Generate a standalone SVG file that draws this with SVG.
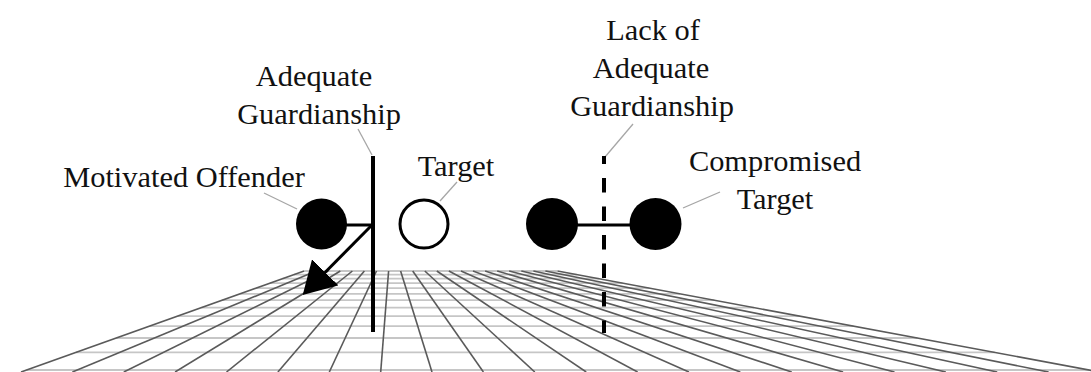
<svg xmlns="http://www.w3.org/2000/svg" width="1091" height="372" viewBox="0 0 1091 372">
<style>
text{font-family:"Liberation Serif","Times New Roman",serif;font-size:30.4px;fill:#111;text-anchor:middle}
.d{stroke:#5a5a5a;stroke-width:1.6}
.c{stroke:#c6c6c6;stroke-width:1.8}
.lead{stroke:#a6a6a6;stroke-width:1.3;fill:none}
.bold{stroke:#000;stroke-width:3;fill:none}
.pole{stroke:#000;stroke-width:4;fill:none}
.dot{fill:#000}
</style>
<defs>
<marker id="ah" markerUnits="userSpaceOnUse" viewBox="0 0 32 37" markerWidth="32" markerHeight="37" refX="1" refY="18.5" orient="auto"><path d="M0,0 L32,18.5 L0,37 Z" fill="#000"/></marker>
</defs>
<rect width="1091" height="372" fill="#fff"/>
<g id="grid">
<g class="c">
<line x1="304.1" y1="271" x2="557.5" y2="271"/>
<line x1="294.0" y1="274.6" x2="576.8" y2="274.6"/>
<line x1="282.5" y1="278.7" x2="598.9" y2="278.7"/>
<line x1="270.2" y1="283.1" x2="622.5" y2="283.1"/>
<line x1="256.2" y1="288.1" x2="649.3" y2="288.1"/>
<line x1="240.2" y1="293.8" x2="680.0" y2="293.8"/>
<line x1="222.3" y1="300.2" x2="714.3" y2="300.2"/>
<line x1="201.5" y1="307.6" x2="754.1" y2="307.6"/>
<line x1="177.7" y1="316.1" x2="799.7" y2="316.1"/>
<line x1="149.7" y1="326.1" x2="853.4" y2="326.1"/>
<line x1="116.3" y1="338" x2="917.4" y2="338"/>
<line x1="75.9" y1="352.4" x2="994.7" y2="352.4"/>
<line x1="26.6" y1="370" x2="1089.2" y2="370"/>
</g>
<g class="d">
<line x1="304.1" y1="271" x2="21" y2="372"/>
<line x1="316.2" y1="271" x2="72.4" y2="372"/>
<line x1="328.3" y1="271" x2="123.8" y2="372"/>
<line x1="340.3" y1="271" x2="175.1" y2="372"/>
<line x1="352.4" y1="271" x2="226.5" y2="372"/>
<line x1="364.4" y1="271" x2="277.9" y2="372"/>
<line x1="376.5" y1="271" x2="329.3" y2="372"/>
<line x1="388.6" y1="271" x2="380.7" y2="372"/>
<line x1="400.6" y1="271" x2="432.0" y2="372"/>
<line x1="412.7" y1="271" x2="483.4" y2="372"/>
<line x1="424.8" y1="271" x2="534.8" y2="372"/>
<line x1="436.8" y1="271" x2="586.2" y2="372"/>
<line x1="448.9" y1="271" x2="637.6" y2="372"/>
<line x1="461.0" y1="271" x2="688.9" y2="372"/>
<line x1="473.0" y1="271" x2="740.3" y2="372"/>
<line x1="485.1" y1="271" x2="791.7" y2="372"/>
<line x1="497.2" y1="271" x2="843.1" y2="372"/>
<line x1="509.2" y1="271" x2="894.5" y2="372"/>
<line x1="521.3" y1="271" x2="945.8" y2="372"/>
<line x1="533.4" y1="271" x2="997.2" y2="372"/>
<line x1="545.4" y1="271" x2="1048.6" y2="372"/>
<line x1="557.5" y1="271" x2="1100" y2="372"/>
</g>
</g>
<g id="connectors">
<line class="lead" x1="264" y1="193" x2="297" y2="209"/>
<line class="lead" x1="358" y1="129" x2="372" y2="155"/>
<line class="lead" x1="457" y1="182" x2="440" y2="201"/>
<line class="lead" x1="633" y1="124" x2="605" y2="157"/>
<line class="lead" x1="720" y1="192" x2="683" y2="208"/>
<line class="bold" x1="346" y1="225" x2="373" y2="225"/>
<line class="bold" x1="371" y1="226" x2="324.5" y2="273" marker-end="url(#ah)"/>
<line class="bold" x1="576" y1="225" x2="632" y2="225"/>
</g>
<g id="motivated-offender">
<circle class="dot" cx="321.5" cy="224" r="25.5"/>
<text x="184" y="187">Motivated Offender</text>
</g>
<g id="adequate-guardianship">
<line class="pole" x1="373" y1="156" x2="373" y2="332"/>
<text x="314" y="86">Adequate</text>
<text x="319" y="123.5">Guardianship</text>
</g>
<g id="target">
<circle cx="424" cy="224" r="24" fill="#fff" stroke="#000" stroke-width="3"/>
<text x="456" y="175.5">Target</text>
</g>
<g id="lack-of-guardianship">
<line x1="604" y1="156" x2="604" y2="333" stroke="#000" stroke-width="4" stroke-dasharray="14.5 14" stroke-dashoffset="6.5"/>
<text x="653" y="40.3">Lack of</text>
<text x="651" y="78">Adequate</text>
<text x="652" y="115.7">Guardianship</text>
</g>
<g id="compromised-target">
<circle class="dot" cx="552" cy="224" r="26"/>
<circle class="dot" cx="655.5" cy="224" r="26"/>
<text x="775" y="171">Compromised</text>
<text x="775" y="209">Target</text>
</g>
</svg>
